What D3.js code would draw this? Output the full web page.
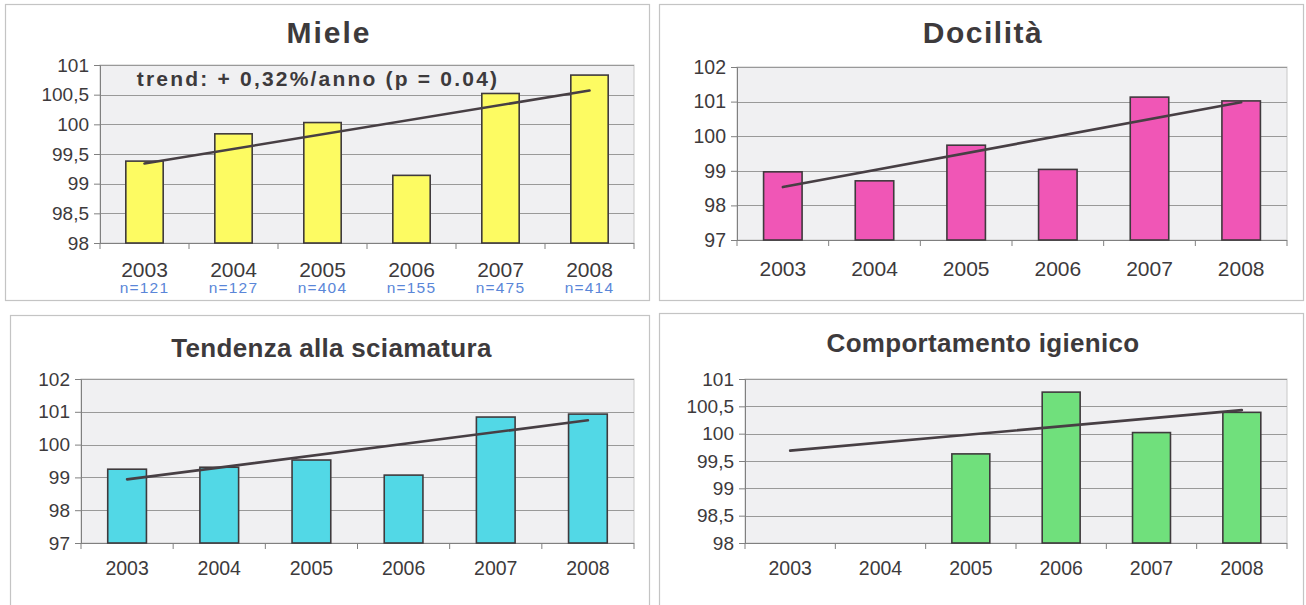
<!DOCTYPE html>
<html>
<head>
<meta charset="utf-8">
<script src="https://cdn.jsdelivr.net/npm/d3@7"></script>
<style>
  html, body { margin: 0; padding: 0; background: #ffffff; }
  svg { display: block; font-family: "Liberation Sans", Arial, sans-serif; }
</style>
</head>
<body>
<svg id="chart" width="1306" height="605"></svg>
<script>
// Years shared by all four panels
const years = ["2003", "2004", "2005", "2006", "2007", "2008"];

// Miele (honey yield index)
const mieleValues = [99.38, 99.84, 100.03, 99.14, 100.52, 100.83];
const mieleTrend = [99.34, 100.57];
const mieleCounts = [121, 127, 404, 155, 475, 414];
const mieleTicks = [98, 98.5, 99, 99.5, 100, 100.5, 101];
const mieleTrendLabel = "trend: + 0,32%/anno (p = 0.04)";

// Docilità
const docilitaValues = [98.97, 98.71, 99.74, 99.04, 101.13, 101.02];
const docilitaTrend = [98.53, 100.98];
const docilitaTicks = [97, 98, 99, 100, 101, 102];

// Tendenza alla sciamatura
const sciamaturaValues = [99.25, 99.31, 99.53, 99.07, 100.84, 100.93];
const sciamaturaTrend = [98.94, 100.74];
const sciamaturaTicks = [97, 98, 99, 100, 101, 102];

// Comportamento igienico (no data before 2005)
const igienicoValues = [null, null, 99.63, 100.76, 100.02, 100.39];
const igienicoTrend = [99.69, 100.43];
const igienicoTicks = [98, 98.5, 99, 99.5, 100, 100.5, 101];

const itLocale = d3.formatLocale({ decimal: ",", thousands: ".", grouping: [3], currency: ["", " €"] });
const tickFormat = itLocale.format("~g");

const svg = d3.select("#chart");
const textColor = "#3d3a3c";

const panels = [
  {
    title: "Miele", titleSize: 30, titleSpacing: 2, titleY: 43,
    frame: [5, 4, 649, 300], plot: [100, 65, 634, 243],
    values: mieleValues, trend: mieleTrend, ticks: mieleTicks, counts: mieleCounts,
    note: mieleTrendLabel, fill: "#fdfb62",
    yFont: 19, xFont: 21, xLabelY: 277
  },
  {
    title: "Docilità", titleSize: 30, titleSpacing: 1.5, titleY: 43,
    frame: [659, 4, 1303, 300], plot: [737, 67, 1287, 240],
    values: docilitaValues, trend: docilitaTrend, ticks: docilitaTicks,
    fill: "#f056b6",
    yFont: 19.5, xFont: 21, xLabelY: 276
  },
  {
    title: "Tendenza alla sciamatura", titleSize: 26, titleSpacing: 0.3, titleY: 357,
    frame: [10, 315, 649, 612], plot: [81, 379, 634, 543],
    values: sciamaturaValues, trend: sciamaturaTrend, ticks: sciamaturaTicks,
    fill: "#52d8e6",
    yFont: 19, xFont: 19.5, xLabelY: 575
  },
  {
    title: "Comportamento igienico", titleSize: 26, titleSpacing: 0.3, titleY: 352,
    frame: [659, 313, 1303, 612], plot: [745, 379, 1287, 543],
    values: igienicoValues, trend: igienicoTrend, ticks: igienicoTicks,
    fill: "#70e07c",
    yFont: 19, xFont: 19.5, xLabelY: 575
  }
];

panels.forEach(p => {
  const g = svg.append("g");
  const [fx0, fy0, fx1, fy1] = p.frame;
  const [px0, py0, px1, py1] = p.plot;

  // outer chart frame
  g.append("rect")
    .attr("x", fx0 + 0.5).attr("y", fy0 + 0.5)
    .attr("width", fx1 - fx0).attr("height", fy1 - fy0)
    .attr("fill", "#ffffff").attr("stroke", "#c4c4c4").attr("stroke-width", 1.2);

  const x = d3.scaleBand().domain(years).range([px0, px1]).padding(0);
  const y = d3.scaleLinear().domain(d3.extent(p.ticks)).range([py1, py0]);
  const barW = x.bandwidth() * 0.42;
  const cx = d => x(d) + x.bandwidth() / 2;

  // plot area background
  g.append("rect")
    .attr("x", px0).attr("y", py0)
    .attr("width", px1 - px0).attr("height", py1 - py0)
    .attr("fill", "#f0f0f2").attr("stroke", "#c8c8c8").attr("stroke-width", 1);

  // horizontal gridlines
  g.append("g").selectAll("line")
    .data(p.ticks.slice(1))
    .join("line")
    .attr("x1", px0).attr("x2", px1)
    .attr("y1", d => Math.round(y(d)) + 0.5).attr("y2", d => Math.round(y(d)) + 0.5)
    .attr("stroke", "#999999").attr("stroke-width", 1);

  // y axis
  const yAxis = g.append("g")
    .attr("transform", `translate(${px0},0)`)
    .call(d3.axisLeft(y).tickValues(p.ticks).tickFormat(tickFormat).tickSize(6).tickPadding(5));
  yAxis.select(".domain").attr("stroke", "#808080");
  yAxis.selectAll(".tick line").attr("stroke", "#808080");
  yAxis.selectAll(".tick text")
    .attr("fill", textColor).style("font-size", p.yFont + "px")
    .style("font-family", "'Liberation Sans', Arial, sans-serif");

  // x axis: ticks sit on category boundaries
  const xAxis = g.append("g").attr("transform", `translate(0,${py1})`);
  xAxis.append("line")
    .attr("x1", px0).attr("x2", px1).attr("y1", 0.5).attr("y2", 0.5)
    .attr("stroke", "#808080");
  xAxis.selectAll("line.tk")
    .data(years.concat(["end"]))
    .join("line").attr("class", "tk")
    .attr("x1", (d, i) => px0 + i * x.step()).attr("x2", (d, i) => px0 + i * x.step())
    .attr("y1", 0).attr("y2", 6)
    .attr("stroke", "#808080");

  // bars
  g.append("g").selectAll("rect")
    .data(years.map((yr, i) => ({ yr, v: p.values[i] })).filter(d => d.v != null))
    .join("rect")
    .attr("x", d => cx(d.yr) - barW / 2)
    .attr("y", d => y(d.v))
    .attr("width", barW)
    .attr("height", d => y(y.domain()[0]) - y(d.v))
    .attr("fill", p.fill)
    .attr("stroke", "#3f3a3d").attr("stroke-width", 1.6);

  // linear trend
  g.append("line")
    .attr("x1", cx(years[0])).attr("y1", y(p.trend[0]))
    .attr("x2", cx(years[years.length - 1])).attr("y2", y(p.trend[1]))
    .attr("stroke", "#473f44").attr("stroke-width", 2.6).attr("stroke-linecap", "round");

  // year labels
  g.append("g").selectAll("text")
    .data(years)
    .join("text")
    .attr("x", d => cx(d)).attr("y", p.xLabelY)
    .attr("text-anchor", "middle")
    .attr("fill", textColor)
    .style("font-size", p.xFont + "px")
    .text(d => d);

  // sample sizes
  if (p.counts) {
    g.append("g").selectAll("text")
      .data(years.map((yr, i) => ({ yr, n: p.counts[i] })))
      .join("text")
      .attr("x", d => cx(d.yr)).attr("y", p.xLabelY + 16)
      .attr("text-anchor", "middle")
      .attr("fill", "#5a86d8")
      .style("font-size", "15.5px").style("letter-spacing", "1.2px")
      .text(d => "n=" + d.n);
  }

  // title
  g.append("text")
    .attr("x", (fx0 + fx1) / 2 + 2).attr("y", p.titleY)
    .attr("text-anchor", "middle")
    .attr("fill", textColor)
    .style("font-size", p.titleSize + "px").style("font-weight", "bold")
    .style("letter-spacing", p.titleSpacing + "px")
    .text(p.title);

  // trend annotation
  if (p.note) {
    g.append("text")
      .attr("x", 318).attr("y", 86)
      .attr("text-anchor", "middle")
      .attr("fill", textColor)
      .style("font-size", "21px").style("font-weight", "bold")
      .style("letter-spacing", "2.2px")
      .text(p.note);
  }
});
</script>
</body>
</html>
